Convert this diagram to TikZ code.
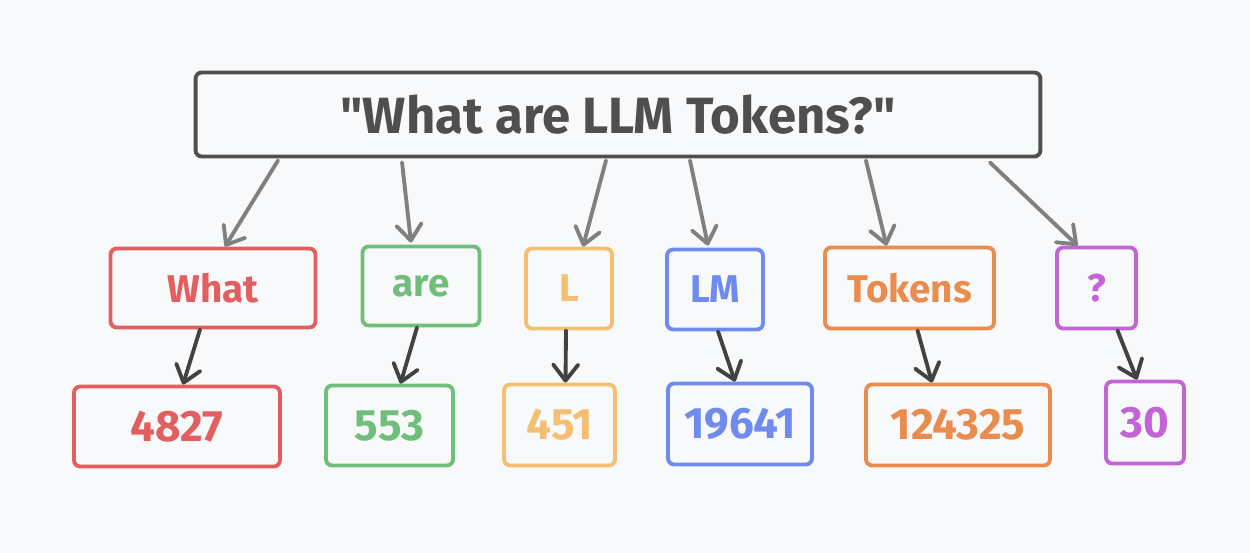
\documentclass[tikz,border=0pt]{standalone}
\usepackage{fontspec}
\setmainfont{Fira Sans}[Ligatures=TeXOff]
\usetikzlibrary{arrows.meta}

\definecolor{bgcol}{HTML}{F8F9FB}
\definecolor{inkgrey}{HTML}{4F4F4F}
\definecolor{splitgrey}{HTML}{808080}
\definecolor{lookgrey}{HTML}{424242}
\definecolor{tkred}{HTML}{E35F5F}
\definecolor{tkgreen}{HTML}{6FBF7A}
\definecolor{tkyellow}{HTML}{F5BF73}
\definecolor{tkblue}{HTML}{6E8BED}
\definecolor{tkorange}{HTML}{E98C4E}
\definecolor{tkpurple}{HTML}{C263D6}

\begin{document}
\begin{tikzpicture}[
        x=0.02cm, y=-0.02cm,
        box/.style={
            draw,
            fill=bgcol,
            rounded corners=3.5pt,
            line width=2.2pt,
            inner sep=0pt,
            align=center
        },
        word/.style={
            box,
            draw=#1,
            text=#1,
            font=\fontsize{22}{26}\selectfont\bfseries
        },
        tokid/.style={
            box,
            draw=#1,
            text=#1,
            font=\fontsize{25}{29}\selectfont\bfseries
        },
        split/.style={
            -{Straight Barb[length=0.32cm, width=0.5cm, line cap=round, line join=round]},
            line width=2.2pt,
            line cap=round,
            draw=splitgrey
        },
        lookup/.style={
            split,
            draw=lookgrey
        }
    ]
        % --- Fond ---
        \fill[bgcol] (0,0) rectangle (1250,553);

        % --- Phrase complète ---
        \node[box, draw=inkgrey, text=inkgrey, minimum width=16.9cm, minimum height=1.68cm,
              font=\fontsize{29}{33}\selectfont\bfseries] (sentence) at (618,114.5)
            {"What are LLM Tokens?"};

        % --- Tokens (mots) ---
        \node[word=tkred, minimum width=4.1cm, minimum height=1.58cm] (what) at (213,288) {What};
        \node[word=tkgreen, minimum width=2.34cm, minimum height=1.58cm] (are) at (421,286) {are};
        \node[word=tkyellow, minimum width=1.72cm, minimum height=1.6cm] (tokL) at (569,288.5) {L};
        \node[word=tkblue, minimum width=1.92cm, minimum height=1.6cm] (tokLM) at (715,289.5) {LM};
        \node[word=tkorange, minimum width=3.38cm, minimum height=1.62cm] (tokens) at (909.5,288) {Tokens};
        \node[word=tkpurple, minimum width=1.58cm, minimum height=1.62cm] (qmark) at (1096.5,288) {?};

        % --- Identifiants des tokens ---
        \node[tokid=tkred, minimum width=4.12cm, minimum height=1.6cm] (id4827) at (177,426.5) {4827};
        \node[tokid=tkgreen, minimum width=2.54cm, minimum height=1.6cm] (id553) at (389.5,425.5) {553};
        \node[tokid=tkyellow, minimum width=2.22cm, minimum height=1.62cm] (id451) at (559.5,425) {451};
        \node[tokid=tkblue, minimum width=2.88cm, minimum height=1.62cm] (id19641) at (740,424) {19641};
        \node[tokid=tkorange, minimum width=3.68cm, minimum height=1.62cm] (id124325) at (958,425) {124325};
        \node[tokid=tkpurple, minimum width=1.56cm, minimum height=1.64cm] (id30) at (1145,422.5) {30};

        % --- Découpage de la phrase ---
        \draw[split] ([xshift=-6.8cm, yshift=-0.04cm]sentence.south) -- ([xshift=0.24cm]what.north);
        \draw[split] ([xshift=-4.32cm, yshift=-0.08cm]sentence.south) -- ([xshift=-0.2cm, yshift=0.04cm]are.north);
        \draw[split] ([xshift=-0.24cm, yshift=-0.04cm]sentence.south) -- ([xshift=0.28cm]tokL.north);
        \draw[split] ([xshift=1.44cm, yshift=-0.04cm]sentence.south) -- ([xshift=-0.14cm, yshift=0.04cm]tokLM.north);
        \draw[split] ([xshift=4.96cm, yshift=-0.04cm]sentence.south) -- ([xshift=-0.46cm]tokens.north);
        \draw[split] ([xshift=7.44cm, yshift=-0.08cm]sentence.south) -- ([xshift=-0.38cm]qmark.north);

        % --- Correspondance mot -> identifiant ---
        \draw[lookup] ([xshift=-0.26cm]what.south) -- ([xshift=0.12cm]id4827.north);
        \draw[lookup] ([xshift=-0.08cm]are.south) -- ([xshift=0.22cm]id553.north);
        \draw[lookup] ([xshift=-0.06cm]tokL.south) -- ([xshift=0.12cm]id451.north);
        \draw[lookup] ([xshift=0.06cm]tokLM.south) -- ([xshift=-0.1cm]id19641.north);
        \draw[lookup] ([xshift=0.16cm]tokens.south) -- ([xshift=-0.52cm]id124325.north);
        \draw[lookup] ([xshift=0.42cm]qmark.south) -- ([xshift=-0.16cm]id30.north);
    \end{tikzpicture}
\end{document}
